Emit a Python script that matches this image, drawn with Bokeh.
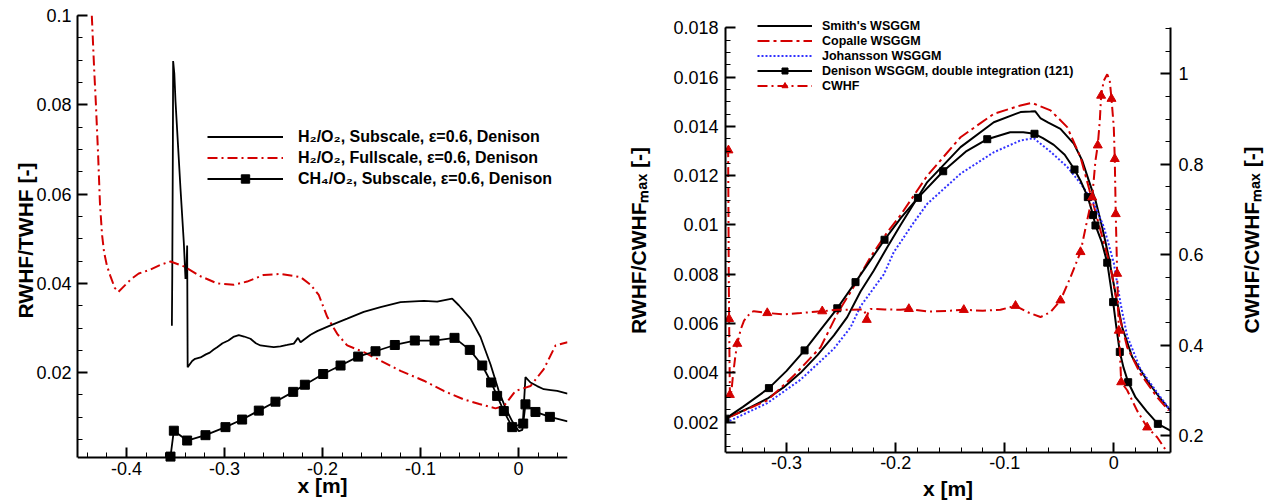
import math
from bokeh.plotting import figure
from bokeh.models import (Range1d, LinearAxis, SingleIntervalTicker, CustomJSTickFormatter,
                          Legend, LegendItem, Label)
from bokeh.layouts import row
from bokeh.embed import file_html
from bokeh.resources import INLINE

# ---------------- LEFT CHART DATA ----------------
h2sub_x = [-0.3537, -0.3533, -0.3527, -0.3524, -0.3512, -0.3500, -0.3449, -0.3415, -0.3398, -0.3388,
           -0.3381, -0.3376, -0.3330, -0.3300, -0.3245, -0.3190, -0.3150, -0.3110, -0.3075, -0.3020,
           -0.2960, -0.2910, -0.2854, -0.2800, -0.2735, -0.2680, -0.2633, -0.2560, -0.2497, -0.2429,
           -0.2360, -0.2293, -0.2250, -0.2224, -0.2122, -0.2054, -0.1918, -0.1748, -0.1579, -0.1408,
           -0.1204, -0.0966, -0.0830, -0.0677, -0.0609, -0.0490, -0.0388, -0.0286, -0.0201, -0.0133,
           -0.0064, 0.0003, 0.0040, 0.0071, 0.0122, 0.0190, 0.0258, 0.0330, 0.0395, 0.0500]
h2sub_y = [0.0305, 0.0420, 0.0700, 0.0898, 0.0870, 0.0808, 0.0612, 0.0491, 0.0410, 0.0430,
           0.0485, 0.0212, 0.0226, 0.0231, 0.0234, 0.0241, 0.0245, 0.0252, 0.0257, 0.0266,
           0.0272, 0.0280, 0.0284, 0.0281, 0.0276, 0.0266, 0.0261, 0.0259, 0.0257, 0.0259,
           0.0262, 0.0265, 0.0278, 0.0268, 0.0285, 0.0293, 0.0306, 0.0321, 0.0336, 0.0347,
           0.0358, 0.0361, 0.0359, 0.0366, 0.0351, 0.0321, 0.0280, 0.0219, 0.0159, 0.0121,
           0.0091, 0.0069, 0.0072, 0.0190, 0.0178, 0.0170, 0.0163, 0.0161, 0.0159, 0.0153]

h2full_x = [-0.4354, -0.4330, -0.4313, -0.4290, -0.4271, -0.4250, -0.4229, -0.4200, -0.4167, -0.4120,
            -0.4083, -0.4042, -0.3950, -0.3875, -0.3755, -0.3650, -0.3551, -0.3415, -0.3245, -0.3075,
            -0.2905, -0.2769, -0.2599, -0.2429, -0.2224, -0.2122, -0.2038, -0.1952, -0.1850, -0.1748,
            -0.1579, -0.1408, -0.1204, -0.0966, -0.0762, -0.0558, -0.0400, -0.0235, -0.0150, -0.0031,
            0.0122, 0.0258, 0.0378, 0.0500]
h2full_y = [0.1000, 0.0880, 0.0805, 0.0690, 0.0580, 0.0510, 0.0470, 0.0440, 0.0418, 0.0390,
            0.0381, 0.0390, 0.0410, 0.0422, 0.0431, 0.0442, 0.0449, 0.0438, 0.0416, 0.0400,
            0.0397, 0.0404, 0.0419, 0.0421, 0.0414, 0.0397, 0.0374, 0.0325, 0.0287, 0.0261,
            0.0246, 0.0227, 0.0204, 0.0182, 0.0159, 0.0140, 0.0130, 0.0120, 0.0125, 0.0159,
            0.0170, 0.0208, 0.0261, 0.0268]

ch4_x = [-0.3551, -0.3517, -0.3381, -0.3194, -0.2990, -0.2820, -0.2650, -0.2480, -0.2299, -0.2180,
         -0.1993, -0.1816, -0.1636, -0.1459, -0.1262, -0.1058, -0.0857, -0.0653, -0.0497, -0.0370,
         -0.0279, -0.0218, -0.0150, -0.0064, 0.0048, 0.0071, 0.0173, 0.0320, 0.0500]
ch4_y = [0.0012, 0.0070, 0.0048, 0.0060, 0.0078, 0.0095, 0.0115, 0.0135, 0.0157, 0.0173,
         0.0197, 0.0216, 0.0236, 0.0248, 0.0262, 0.0272, 0.0272, 0.0278, 0.0251, 0.0216,
         0.0178, 0.0148, 0.0114, 0.0078, 0.0086, 0.0129, 0.0112, 0.0101, 0.0091]

left_labels = ["H\u2082/O\u2082, Subscale, \u03b5=0.6, Denison",
               "H\u2082/O\u2082, Fullscale, \u03b5=0.6, Denison",
               "CH\u2084/O\u2082, Subscale, \u03b5=0.6, Denison"]

# ---------------- RIGHT CHART DATA ----------------
smith_x = [-0.356, -0.345, -0.333, -0.3177, -0.3025, -0.2872, -0.2719, -0.2566, -0.2444, -0.2322,
           -0.220, -0.2077, -0.1955, -0.171, -0.1405, -0.110, -0.0855, -0.0763, -0.0720, -0.0670,
           -0.0600, -0.0489, -0.0367, -0.029, -0.0229, -0.0168, -0.0106, -0.0046, 0.0016, 0.0077,
           0.0169, 0.0306, 0.0428, 0.052]
smith_y = [0.00214, 0.00236, 0.00261, 0.00295, 0.00342, 0.00400, 0.00471, 0.00552, 0.00626, 0.00730,
           0.00815, 0.00910, 0.01000, 0.01174, 0.01316, 0.01417, 0.01458, 0.01460, 0.01461, 0.01432,
           0.01415, 0.01390, 0.01330, 0.01262, 0.01180, 0.01100, 0.00991, 0.00869, 0.00721, 0.00585,
           0.00464, 0.00369, 0.00295, 0.00247]

copalle_x = [-0.3529, -0.3177, -0.2933, -0.2688, -0.2535, -0.2383, -0.2322, -0.2230, -0.2077, -0.1955,
             -0.171, -0.1405, -0.110, -0.0855, -0.0763, -0.0733, -0.058, -0.0427, -0.0305, -0.0214,
             -0.0122, -0.0030, 0.0046, 0.0123, 0.0245, 0.0398, 0.0504]
copalle_y = [0.00220, 0.00288, 0.00389, 0.00504, 0.00640, 0.00750, 0.00800, 0.00870, 0.00970, 0.01040,
             0.01200, 0.01356, 0.01451, 0.01485, 0.01494, 0.01492, 0.01465, 0.01397, 0.01275, 0.01127,
             0.00978, 0.00829, 0.00640, 0.00504, 0.00396, 0.00301, 0.00247]

johansson_x = [-0.356, -0.3513, -0.3177, -0.2872, -0.2566, -0.2413, -0.2322, -0.2108, -0.2017, -0.1955,
               -0.185, -0.171, -0.1405, -0.110, -0.0855, -0.0763, -0.0733, -0.058, -0.0427, -0.0305,
               -0.0183, -0.0092, 0.0000, 0.0061, 0.0123, 0.0245, 0.0398, 0.052]
johansson_y = [0.00205, 0.00207, 0.00277, 0.00372, 0.00498, 0.00585, 0.00670, 0.00800, 0.00890, 0.00930,
               0.01000, 0.01086, 0.01208, 0.01295, 0.01343, 0.01350, 0.01352, 0.01297, 0.01236, 0.01169,
               0.01088, 0.00993, 0.00846, 0.00684, 0.00549, 0.00414, 0.00320, 0.00246]

denison_x = [-0.356, -0.340, -0.3162, -0.300, -0.2835, -0.270, -0.2535, -0.2368, -0.2102, -0.195,
             -0.1796, -0.1564, -0.135, -0.116, -0.095, -0.083, -0.0727, -0.065, -0.055, -0.045,
             -0.036, -0.030, -0.0238, -0.0190, -0.0168, -0.011, -0.006, -0.0006, 0.0025, 0.0055,
             0.009, 0.0132, 0.020, 0.030, 0.0404, 0.052]
denison_y = [0.00214, 0.00262, 0.00338, 0.00408, 0.00491, 0.00568, 0.00662, 0.00768, 0.00940, 0.01030,
             0.01110, 0.01218, 0.01300, 0.01348, 0.01376, 0.01376, 0.01370, 0.01352, 0.01325, 0.01285,
             0.01225, 0.01175, 0.01113, 0.01040, 0.00998, 0.00930, 0.00847, 0.00687, 0.00580, 0.00485,
             0.00420, 0.00362, 0.00300, 0.00245, 0.00193, 0.00166]
denison_mx = [-0.356, -0.3162, -0.2835, -0.2535, -0.2368, -0.2102, -0.1796, -0.1564, -0.116, -0.0727,
              -0.036, -0.0238, -0.0190, -0.0168, -0.006, -0.0006, 0.0055, 0.0132, 0.0404]
denison_my = [0.00214, 0.00338, 0.00491, 0.00662, 0.00768, 0.00940, 0.01110, 0.01218, 0.01348, 0.01370,
              0.01225, 0.01113, 0.01040, 0.00998, 0.00847, 0.00687, 0.00485, 0.00362, 0.00193]

cwhf_x = [-0.3536, -0.3533, -0.3530, -0.3527, -0.3524, -0.3520, -0.3515, -0.3505, -0.3490, -0.3470,
          -0.3452, -0.3420, -0.3390, -0.3330, -0.3300, -0.3177, -0.3025, -0.2872, -0.2673, -0.2535,
          -0.2400, -0.2300, -0.2275, -0.2265, -0.2255, -0.2230, -0.2100, -0.1955, -0.1879, -0.1700,
          -0.1500, -0.1375, -0.1200, -0.1039, -0.0901, -0.0794, -0.0672, -0.0580, -0.0489, -0.0397,
          -0.0305, -0.0244, -0.0198, -0.0168, -0.0147, -0.0128, -0.0116, -0.0092, -0.0060, -0.0037,
          -0.0021, 0.0000, 0.0009, 0.0018, 0.0031, 0.0046, 0.0055, 0.0068, 0.0123, 0.0214,
          0.0306, 0.0398, 0.0490]
cwhf_y = [0.838, 0.700, 0.550, 0.458, 0.380, 0.300, 0.285, 0.300, 0.336, 0.375,
          0.403, 0.435, 0.454, 0.472, 0.475, 0.471, 0.468, 0.471, 0.475, 0.478,
          0.478, 0.479, 0.470, 0.456, 0.470, 0.480, 0.479, 0.478, 0.480, 0.474,
          0.476, 0.478, 0.476, 0.478, 0.487, 0.473, 0.462, 0.473, 0.499, 0.550,
          0.606, 0.676, 0.727, 0.808, 0.842, 0.897, 0.952, 0.985, 0.999, 0.985,
          0.945, 0.882, 0.812, 0.690, 0.558, 0.432, 0.388, 0.318, 0.300, 0.255,
          0.218, 0.196, 0.163]
cwhf_mx = [-0.3533, -0.3527, -0.3520, -0.3452, -0.3177, -0.2673, -0.2265, -0.1879, -0.1375, -0.0901,
           -0.0489, -0.0305, -0.0198, -0.0147, -0.0116, -0.0021, 0.0009, 0.0018, 0.0031, 0.0046,
           0.0068, 0.0306]
cwhf_my = [0.831, 0.458, 0.290, 0.403, 0.471, 0.475, 0.456, 0.480, 0.478, 0.487,
           0.499, 0.606, 0.727, 0.842, 0.952, 0.945, 0.812, 0.690, 0.558, 0.432,
           0.318, 0.218]

right_labels = ["Smith's WSGGM", "Copalle WSGGM", "Johansson WSGGM",
                "Denison WSGGM, double integration (121)", "CWHF"]

# ---------------- STYLE / GEOMETRY ----------------
FONT = "Liberation Sans"
RED = "#d40000"
BLUE = "#3030ff"
H = 500
TOP = 15          # frame top (px) for both figures
BOTTOM = H        # frame extends to canvas bottom; x axes are placed with fixed_location
NB = "\u00a0"     # non-breaking space, used to centre the left y titles on the drawn axis part


def ext_range(v_top, px_top, v_bot, px_bot):
    """Vertical range whose visible axis part runs from v_bot (at px_bot) to v_top (at px_top)."""
    s = (px_bot - px_top) / (v_top - v_bot)
    return Range1d(v_bot - (BOTTOM - px_bot) / s, v_top + (px_top - TOP) / s)


def fmt():
    return CustomJSTickFormatter(code="return (Math.round(tick*1e6)/1e6).toString();")


def style_axis(ax, interval, nminor, standoff):
    ax.ticker = SingleIntervalTicker(interval=interval, num_minor_ticks=nminor)
    ax.formatter = fmt()
    ax.axis_line_width = 2
    ax.axis_line_color = "black"
    ax.major_tick_in = 10
    ax.major_tick_out = 0
    ax.major_tick_line_width = 2
    ax.major_tick_line_color = "black"
    ax.minor_tick_in = 5
    ax.minor_tick_out = 0
    ax.minor_tick_line_width = 1
    ax.minor_tick_line_color = "black"
    ax.major_label_text_font = FONT
    ax.major_label_text_font_size = "18px"
    ax.major_label_text_color = "black"
    ax.major_label_standoff = standoff
    ax.axis_label_text_font = FONT
    ax.axis_label_text_font_size = "21px"
    ax.axis_label_text_font_style = "bold"
    ax.axis_label_text_color = "black"


def title_label(x, y, text, angle=0.0, y_range_name="default"):
    return Label(x=x, y=y, text=text, angle=angle, y_range_name=y_range_name,
                 text_align="center", text_baseline="middle", text_font=FONT,
                 text_font_size="21px", text_font_style="bold", text_color="black")


# ---------------- LEFT FIGURE ----------------
L_Y0, L_Y1 = 0.001, 0.1
p1 = figure(width=620, height=H, x_range=Range1d(-0.45, 0.05),
            y_range=ext_range(L_Y1, 15, L_Y0, 457),
            output_backend="svg", toolbar_location=None,
            min_border_left=77, min_border_right=53, min_border_top=TOP, min_border_bottom=0)
p1.grid.visible = False
p1.outline_line_color = None
style_axis(p1.xaxis[0], 0.1, 5, 4)
style_axis(p1.yaxis[0], 0.02, 4, 6)
p1.xaxis[0].fixed_location = L_Y0
p1.xaxis[0].axis_label = "x [m]"
p1.xaxis[0].axis_label_standoff = -4
p1.yaxis[0].bounds = (L_Y0, L_Y1 + 1e-7)
p1.yaxis[0].axis_label = NB * 6 + "RWHF/TWHF [-]"
p1.yaxis[0].axis_label_standoff = -4

r_sub = p1.line(h2sub_x, h2sub_y, line_color="black", line_width=1.8)
r_full = p1.line(h2full_x, h2full_y, line_color=RED, line_width=2, line_dash="10 4 2 4")
r_ch4 = p1.line(ch4_x, ch4_y, line_color="black", line_width=1.8)
r_ch4m = p1.scatter(ch4_x[:-1], ch4_y[:-1], marker="square", size=9, fill_color="black", line_color="black")

leg1 = Legend(items=[LegendItem(label=left_labels[0], renderers=[r_sub]),
                     LegendItem(label=left_labels[1], renderers=[r_full]),
                     LegendItem(label=left_labels[2], renderers=[r_ch4, r_ch4m])],
              location=(130, BOTTOM - 189), glyph_width=76, glyph_height=21, label_height=21,
              label_standoff=15, spacing=0, padding=0, margin=0,
              border_line_color=None, background_fill_alpha=0,
              label_text_font=FONT, label_text_font_size="16px", label_text_font_style="bold",
              label_text_color="black")
p1.add_layout(leg1, "center")

# ---------------- RIGHT FIGURE ----------------
R_X0, R_X1 = -0.356, 0.052
R_Y0, R_Y1 = 0.00078, 0.018
C_Y0, C_Y1 = 0.163, 1.102
W2 = 658
FR_L, AX_R = 725, 1170            # frame left / right-axis position in page px
FR_R = 620 + W2                   # frame runs to the canvas edge; right axis is fixed inside
sx = (AX_R - FR_L) / (R_X1 - R_X0)
x_end = R_X1 + (FR_R - AX_R) / sx

y_rng = ext_range(R_Y1, 27.3, R_Y0, 451.7)
sy = (451.7 - 27.3) / (R_Y1 - R_Y0)

p2 = figure(width=W2, height=H, x_range=Range1d(R_X0, x_end), y_range=y_rng,
            output_backend="svg", toolbar_location=None,
            min_border_left=FR_L - 620, min_border_right=0, min_border_top=TOP, min_border_bottom=0)
p2.grid.visible = False
p2.outline_line_color = None
p2.extra_y_ranges = {"cwhf": ext_range(C_Y1, 27.3, C_Y0, 451.7)}
style_axis(p2.xaxis[0], 0.1, 5, 4)
style_axis(p2.yaxis[0], 0.002, 4, 7)
p2.xaxis[0].fixed_location = R_Y0
p2.xaxis[0].bounds = (R_X0, R_X1)
p2.yaxis[0].bounds = (R_Y0, R_Y1 + 1e-8)
p2.yaxis[0].axis_label = NB * 6 + "RWHF/CWHF\u2098\u2090\u2093 [-]"
p2.yaxis[0].axis_label_standoff = 20

ax_r = LinearAxis(y_range_name="cwhf")
style_axis(ax_r, 0.2, 4, 8)
ax_r.bounds = (C_Y0, C_Y1)
ax_r.fixed_location = R_X1
p2.add_layout(ax_r, "right")

# axis titles of the right chart placed as text labels (x title below axis, right y title)
p2.add_layout(title_label((R_X0 + R_X1) / 2, R_Y0 - (488 - 451.7) / sy, "x [m]"))
p2.add_layout(title_label(R_X1 + (1251 - AX_R) / sx, (R_Y0 + R_Y1) / 2,
                          "CWHF/CWHF\u2098\u2090\u2093 [-]", angle=math.pi / 2))

r_smith = p2.line(smith_x, smith_y, line_color="black", line_width=2)
r_cop = p2.line(copalle_x, copalle_y, line_color=RED, line_width=2, line_dash="12 4 3 4")
r_joh = p2.line(johansson_x, johansson_y, line_color=BLUE, line_width=2, line_dash="2 2")
r_den = p2.line(denison_x, denison_y, line_color="black", line_width=2)
r_denm = p2.scatter(denison_mx, denison_my, marker="square", size=7, fill_color="black", line_color="black")
r_cw = p2.line(cwhf_x, cwhf_y, line_color=RED, line_width=2, line_dash="10 4 2 4", y_range_name="cwhf")
r_cwm = p2.scatter(cwhf_mx, cwhf_my, marker="triangle", size=9, fill_color=RED, line_color=RED,
                   y_range_name="cwhf")

leg2 = Legend(items=[LegendItem(label=right_labels[0], renderers=[r_smith]),
                     LegendItem(label=right_labels[1], renderers=[r_cop]),
                     LegendItem(label=right_labels[2], renderers=[r_joh]),
                     LegendItem(label=right_labels[3], renderers=[r_den, r_denm]),
                     LegendItem(label=right_labels[4], renderers=[r_cw, r_cwm])],
              location=(32, BOTTOM - 93), glyph_width=55, glyph_height=15, label_height=15,
              label_standoff=10, spacing=0, padding=0, margin=0,
              border_line_color=None, background_fill_alpha=0,
              label_text_font=FONT, label_text_font_size="12.5px", label_text_font_style="bold",
              label_text_color="black")
p2.add_layout(leg2, "center")

layout = row(p1, p2)
open("out.html", "w").write(file_html(layout, INLINE))
